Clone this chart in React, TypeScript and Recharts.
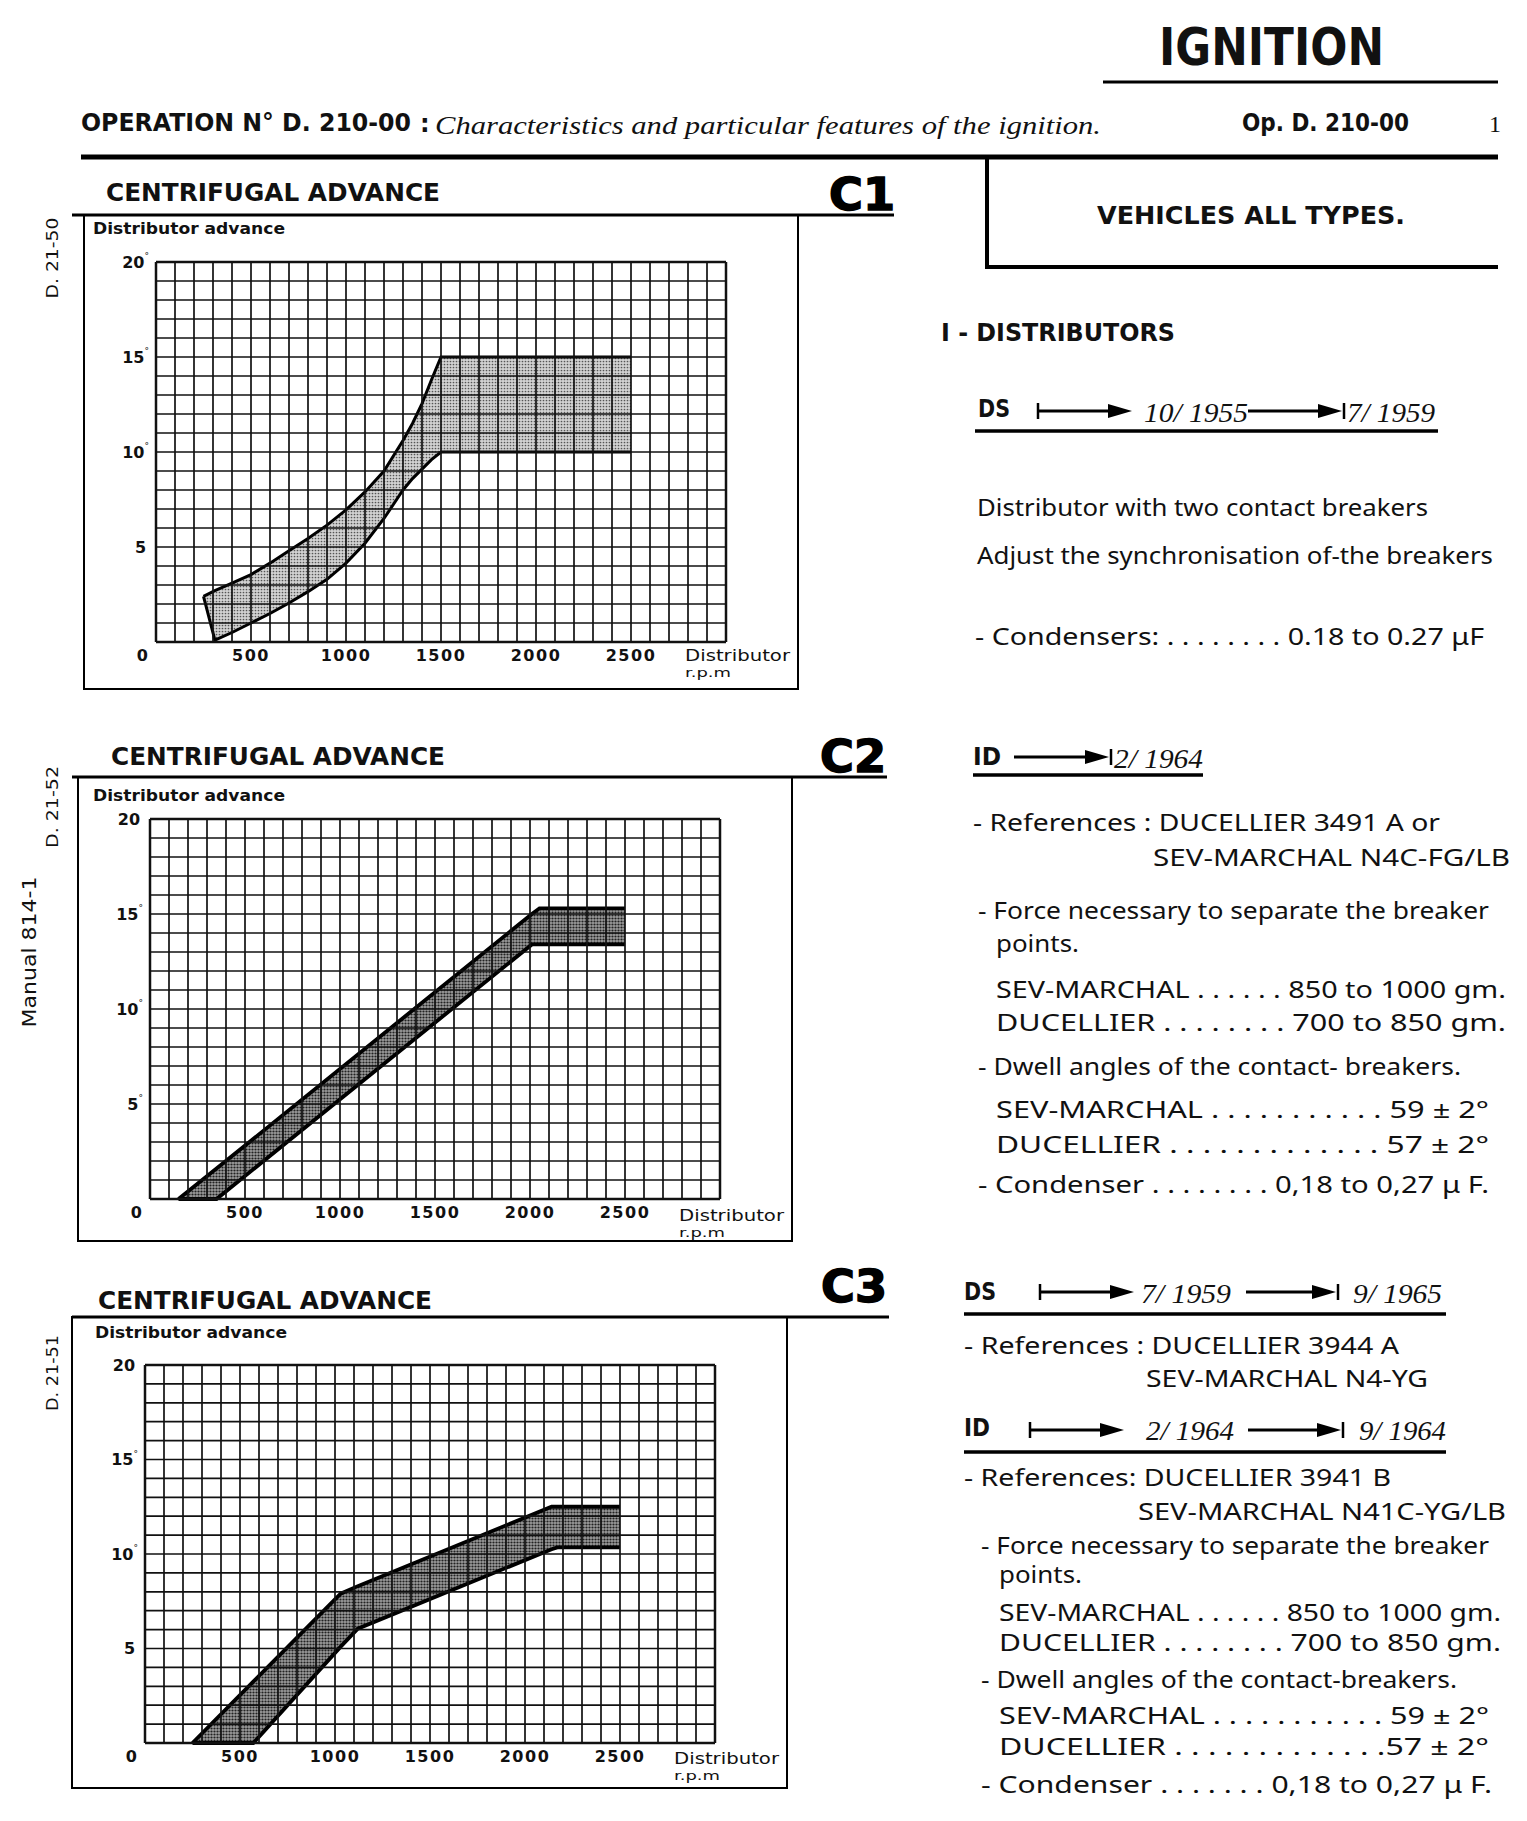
import React from "react";
import { ComposedChart, Area, XAxis, YAxis, ReferenceLine } from "recharts";

// C1 - DS 10/1955 -> 7/1959 : curved band
const C1_RPM = [250, 310, 400, 500, 600, 700, 800, 900, 1000, 1100, 1200, 1250, 1300, 1350, 1400, 1450, 1500, 2500];
const C1_MAX = [2.4, 2.7, 3.1, 3.55, 4.15, 4.8, 5.45, 6.15, 6.95, 7.9, 9.0, 9.8, 10.6, 11.5, 12.55, 13.8, 15, 15];
const C1_MIN = [2.4, 0.1, 0.5, 1.0, 1.5, 2.05, 2.65, 3.3, 4.15, 5.2, 6.5, 7.25, 8.0, 8.6, 9.1, 9.6, 10, 10];

// C2 - ID -> 2/1964 : straight band
const C2_RPM = [150, 350, 2010, 2050, 2500];
const C2_MAX = [0, 1.6, 15.0, 15.3, 15.3];
const C2_MIN = [0, 0, 13.4, 13.4, 13.4];

// C3 - DS 7/1959 -> 9/1965, ID 2/1964 -> 9/1964
const C3_RPM = [250, 570, 1030, 1120, 2140, 2170, 2500];
const C3_MAX = [0, 3.25, 7.9, 8.3, 12.5, 12.5, 12.5];
const C3_MIN = [0, 0, 5.1, 6.05, 10.25, 10.35, 10.35];

// grid: one line per 100 rpm and per degree
const GRID_RPM = Array.from({ length: 31 }, (_, i) => i * 100);
const GRID_DEG = Array.from({ length: 21 }, (_, i) => i);
const RPM_LABELS = [0, 500, 1000, 1500, 2000, 2500];
const DEG_LABELS = [5, 10, 15, 20];

const SANS = "'DejaVu Sans', sans-serif";
const BODY = "'Noto Sans', 'DejaVu Sans', sans-serif";
const SERIF = "'Liberation Serif', 'DejaVu Serif', serif";

const toRows = (rpm: number[], lo: number[], hi: number[]) =>
  rpm.map((r, i) => ({ rpm: r, band: [lo[i], hi[i]] }));

function RpmTick({ x, y, payload }: any) {
  const v = payload.value;
  if (!RPM_LABELS.includes(v)) return <g />;
  return (
    <text x={v === 0 ? x - 13 : x} y={y + 5} textAnchor="middle" dominantBaseline="central"
      fontFamily={SANS} fontWeight="bold" fontSize={16} letterSpacing={1.5} fill="#111">
      {v}
    </text>
  );
}

function DegTick({ x, y, payload, marked }: any) {
  const v = payload.value;
  if (!DEG_LABELS.includes(v)) return <g />;
  return (
    <text x={x + 1} y={y} textAnchor="end" dominantBaseline="central"
      fontFamily={SANS} fontWeight="bold" fontSize={16} fill="#111">
      {v}
      <tspan fontSize={9} dy={-6} fontWeight="normal">{marked.includes(v) ? "°" : "\u00a0"}</tspan>
    </text>
  );
}

interface BandProps {
  id: string;
  rows: { rpm: number; band: number[] }[];
  left: number;
  top: number;
  plotH: number;
  light?: boolean;
  marked: number[];
}

function BandChart({ id, rows, left, top, plotH, light, marked }: BandProps) {
  const W = 40 + 570 + 20;
  const H = 10 + plotH + 40;
  return (
    <div style={{ position: "absolute", left: left - 40, top: top - 10, width: W, height: H }}>
      <ComposedChart width={W} height={H} data={rows} margin={{ top: 10, right: 20, bottom: 0, left: 0 }}>
        <defs>
          <pattern id={id} width="3" height="3" patternUnits="userSpaceOnUse">
            <rect width="3" height="3" fill={light ? "#d2d2d2" : "#9c9c9c"} />
            <circle cx="1.5" cy="1.5" r={light ? 0.85 : 1.1} fill={light ? "#555" : "#222"} />
          </pattern>
        </defs>
        <XAxis type="number" dataKey="rpm" domain={[0, 3000]} ticks={GRID_RPM} interval={0}
          tick={<RpmTick />} tickLine={false} axisLine={false} height={40} />
        <YAxis type="number" domain={[0, 20]} ticks={GRID_DEG} interval={0} width={40}
          tick={(p: any) => <DegTick {...p} marked={marked} />} tickLine={false} axisLine={false} />
        <Area type="linear" dataKey="band" stroke="#000" strokeWidth={light ? 3 : 3.8}
          fill={`url(#${id})`} fillOpacity={1} dot={false} activeDot={false}
          isAnimationActive={false} />
        {/* grid drawn over the band, like the printed sheet */}
        {GRID_RPM.map((v) => (
          <ReferenceLine key={`x${v}`} x={v} stroke="#111" strokeWidth={v % 3000 === 0 ? 2.5 : 1.7} />
        ))}
        {GRID_DEG.map((v) => (
          <ReferenceLine key={`y${v}`} y={v} stroke="#111" strokeWidth={v % 20 === 0 ? 2.5 : 1.7} />
        ))}
      </ComposedChart>
    </div>
  );
}

function T({ x, y, w, size = 23, weight = "normal", family = BODY, italic, anchor = "start", children }: any) {
  return (
    <text x={x} y={y} fontSize={size} fontWeight={weight} fontFamily={family}
      fontStyle={italic ? "italic" : "normal"} textAnchor={anchor} dominantBaseline="central"
      textLength={w} lengthAdjust="spacingAndGlyphs" fill="#111">
      {children}
    </text>
  );
}

function Arrow({ x1, x2, y, startBar, endBar }: any) {
  return (
    <g stroke="#000" fill="#000">
      {startBar && <line x1={x1} x2={x1} y1={y - 8} y2={y + 8} strokeWidth={2.5} />}
      <line x1={x1} x2={x2 - 20} y1={y} y2={y} strokeWidth={3} />
      <polygon points={`${x2 - 24},${y - 7} ${x2},${y} ${x2 - 24},${y + 7}`} strokeWidth={0} />
      {endBar && <line x1={x2 + 2} x2={x2 + 2} y1={y - 8} y2={y + 8} strokeWidth={2.5} />}
    </g>
  );
}

function ChartFrame({ title, tag, tx, ty, tagX, tagY, lineY, lineX2, fx1, fx2, fy2, advY, advX, axY }: any) {
  return (
    <g>
      <T x={tx} y={ty} w={334} size={25} weight="bold" family={SANS}>{title}</T>
      <text x={tagX} y={tagY} fontSize={44} fontWeight="900" fontFamily={SANS} dominantBaseline="central"
        textLength={66} lengthAdjust="spacingAndGlyphs" stroke="#000" strokeWidth={1.5} fill="#000">{tag}</text>
      <line x1={72} x2={lineX2} y1={lineY} y2={lineY} stroke="#000" strokeWidth={3} />
      <rect x={fx1} y={lineY} width={fx2 - fx1} height={fy2 - lineY} fill="none" stroke="#000" strokeWidth={2} />
      <T x={advX} y={advY} w={192} size={16} weight="bold" family={SANS}>Distributor advance</T>
      <T x={fx2 - 113} y={axY} w={105} size={15} family={SANS}>Distributor</T>
      <T x={fx2 - 113} y={axY + 17} w={46} size={12} family={SANS}>r.p.m</T>
    </g>
  );
}

function Page() {
  return (
    <svg width={1527} height={1821} style={{ position: "absolute", left: 0, top: 0 }}>
      <rect width={1527} height={1821} fill="#fff" />
      {/* header */}
      <T x={1159} y={47} w={225} size={52} weight="bold" family={SANS}>IGNITION</T>
      <line x1={1103} x2={1498} y1={82} y2={82} stroke="#000" strokeWidth={3} />
      <T x={81} y={123} w={330} size={24} weight="bold" family={SANS}>OPERATION N° D. 210-00</T>
      <T x={420} y={124} size={24} weight="bold" family={SANS}>:</T>
      <T x={435} y={125} w={666} size={25} italic family={SERIF}>Characteristics and particular features of the ignition.</T>
      <T x={1242} y={123} w={167} size={24} weight="bold" family={SANS}>Op. D. 210-00</T>
      <T x={1489} y={124} size={24} family={SERIF}>1</T>
      <line x1={81} x2={1498} y1={157} y2={157} stroke="#000" strokeWidth={5} />
      <line x1={987} x2={987} y1={157} y2={269} stroke="#000" strokeWidth={4} />
      <line x1={985} x2={1498} y1={267} y2={267} stroke="#000" strokeWidth={4} />
      <T x={1097} y={216} w={308} size={24} weight="bold" family={SANS}>VEHICLES ALL TYPES.</T>

      {/* left margin */}
      <g transform="rotate(-90 52 258)"><T x={52} y={258} w={81} size={16} anchor="middle" family={SANS}>D. 21-50</T></g>
      <g transform="rotate(-90 52 807)"><T x={52} y={807} w={82} size={16} anchor="middle" family={SANS}>D. 21-52</T></g>
      <g transform="rotate(-90 29 952)"><T x={29} y={952} w={151} size={20} anchor="middle" family={SANS}>Manual 814-1</T></g>
      <g transform="rotate(-90 52 1373)"><T x={52} y={1373} w={76} size={16} anchor="middle" family={SANS}>D. 21-51</T></g>

      {/* chart frames and titles */}
      <ChartFrame title="CENTRIFUGAL ADVANCE" tag="C1" tx={106} ty={192} tagX={829} tagY={194} lineY={215}
        lineX2={894} fx1={84} fx2={798} fy2={689} advX={93} advY={228} axY={656} />
      <ChartFrame title="CENTRIFUGAL ADVANCE" tag="C2" tx={111} ty={756} tagX={820} tagY={756} lineY={777}
        lineX2={887} fx1={78} fx2={792} fy2={1241} advX={93} advY={795} axY={1216} />
      <ChartFrame title="CENTRIFUGAL ADVANCE" tag="C3" tx={98} ty={1300} tagX={821} tagY={1286} lineY={1317}
        lineX2={889} fx1={72} fx2={787} fy2={1788} advX={95} advY={1332} axY={1759} />

      {/* right column */}
      <T x={941} y={333} w={234} size={24} weight="bold" family={SANS}>I - DISTRIBUTORS</T>

      <T x={978} y={409} w={32} size={24} weight="bold" family={SANS}>DS</T>
      <Arrow x1={1038} x2={1132} y={411} startBar />
      <T x={1144} y={413} w={104} size={27} italic family={SERIF}>10/ 1955</T>
      <Arrow x1={1248} x2={1342} y={411} endBar />
      <T x={1347} y={413} w={88} size={27} italic family={SERIF}>7/ 1959</T>
      <line x1={975} x2={1438} y1={431} y2={431} stroke="#000" strokeWidth={3.5} />

      <T x={977} y={507} w={451}>Distributor with two contact breakers</T>
      <T x={977} y={555} w={516}>Adjust the synchronisation of-the breakers</T>
      <T x={975} y={636} w={509}>- Condensers: . . . . . . . . 0.18 to 0.27 μF</T>

      <T x={973} y={757} w={28} size={24} weight="bold" family={SANS}>ID</T>
      <Arrow x1={1014} x2={1109} y={757} endBar />
      <T x={1114} y={759} w={89} size={27} italic family={SERIF}>2/ 1964</T>
      <line x1={973} x2={1203} y1={775} y2={775} stroke="#000" strokeWidth={3.5} />

      <T x={973} y={822} w={467}>- References : DUCELLIER 3491 A or</T>
      <T x={1153} y={857} w={357}>SEV-MARCHAL N4C-FG/LB</T>
      <T x={978} y={910} w={511}>- Force necessary to separate the breaker</T>
      <T x={996} y={943} w={83}>points.</T>
      <T x={996} y={989} w={510}>SEV-MARCHAL . . . . . . 850 to 1000 gm.</T>
      <T x={996} y={1022} w={510}>DUCELLIER . . . . . . . . 700 to  850 gm.</T>
      <T x={978} y={1066} w={483}>- Dwell angles of the contact- breakers.</T>
      <T x={996} y={1109} w={493}>SEV-MARCHAL . . . . . . . . . . . 59 ± 2°</T>
      <T x={996} y={1144} w={493}>DUCELLIER . . . . . . . . . . . . . 57 ± 2°</T>
      <T x={978} y={1184} w={511}>- Condenser . . . . . . . . 0,18 to 0,27 μ F.</T>

      <T x={964} y={1292} w={32} size={24} weight="bold" family={SANS}>DS</T>
      <Arrow x1={1040} x2={1134} y={1292} startBar />
      <T x={1141} y={1294} w={90} size={27} italic family={SERIF}>7/ 1959</T>
      <Arrow x1={1246} x2={1336} y={1292} endBar />
      <T x={1353} y={1294} w={89} size={27} italic family={SERIF}>9/ 1965</T>
      <line x1={964} x2={1446} y1={1314} y2={1314} stroke="#000" strokeWidth={3.5} />

      <T x={964} y={1345} w={435}>- References : DUCELLIER 3944  A</T>
      <T x={1146} y={1378} w={282}>SEV-MARCHAL N4-YG</T>

      <T x={964} y={1428} w={26} size={24} weight="bold" family={SANS}>ID</T>
      <Arrow x1={1030} x2={1124} y={1430} startBar />
      <T x={1146} y={1431} w={88} size={27} italic family={SERIF}>2/ 1964</T>
      <Arrow x1={1248} x2={1341} y={1430} endBar />
      <T x={1359} y={1431} w={87} size={27} italic family={SERIF}>9/ 1964</T>
      <line x1={964} x2={1446} y1={1452} y2={1452} stroke="#000" strokeWidth={3.5} />

      <T x={964} y={1477} w={427}>- References: DUCELLIER 3941 B</T>
      <T x={1138} y={1511} w={368}>SEV-MARCHAL N41C-YG/LB</T>
      <T x={981} y={1545} w={508}>- Force necessary to separate the breaker</T>
      <T x={999} y={1574} w={83}>points.</T>
      <T x={999} y={1612} w={502}>SEV-MARCHAL . . . . . . 850 to 1000 gm.</T>
      <T x={999} y={1642} w={502}>DUCELLIER . . . . . . . . 700 to 850 gm.</T>
      <T x={981} y={1679} w={476}>- Dwell angles of the contact-breakers.</T>
      <T x={999} y={1715} w={490}>SEV-MARCHAL . . . . . . . . . . . 59 ± 2°</T>
      <T x={999} y={1746} w={490}>DUCELLIER . . . . . . . . . . . . .57 ± 2°</T>
      <T x={981} y={1784} w={511}>- Condenser . . . . . . . 0,18 to 0,27 μ F.</T>
    </svg>
  );
}

export default function App() {
  return (
    <div style={{ position: "absolute", left: 0, top: 0, width: 1527, height: 1821, background: "#fff" }}>
      <Page />
      <BandChart id="c1dots" rows={toRows(C1_RPM, C1_MIN, C1_MAX)} left={156} top={262} plotH={380} light marked={[10, 15, 20]} />
      <BandChart id="c2dots" rows={toRows(C2_RPM, C2_MIN, C2_MAX)} left={150} top={819} plotH={380} marked={[5, 10, 15]} />
      <BandChart id="c3dots" rows={toRows(C3_RPM, C3_MIN, C3_MAX)} left={145} top={1365} plotH={378} marked={[10, 15]} />
    </div>
  );
}
